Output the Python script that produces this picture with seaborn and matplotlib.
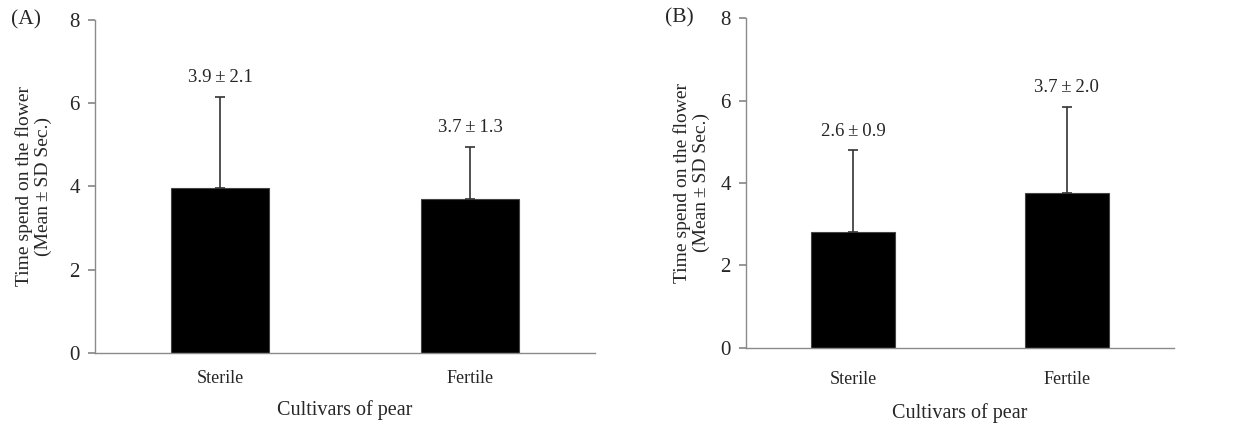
import matplotlib
matplotlib.use("Agg")
import matplotlib.pyplot as plt
import seaborn as sns
import pandas as pd
import numpy as np

# data
cultivars = ["Sterile", "Fertile"]
means_a = [3.95, 3.70]
sd_a = [2.20, 1.25]
labels_a = ["3.9\u2009\u00b1\u20092.1", "3.7\u2009\u00b1\u20091.3"]
means_b = [2.82, 3.76]
sd_b = [1.97, 2.09]
labels_b = ["2.6\u2009\u00b1\u20090.9", "3.7\u2009\u00b1\u20092.0"]
y_ticks = [0, 2, 4, 6, 8]

sns.set_theme(style="white")
plt.rcParams["font.family"] = ["Liberation Serif", "DejaVu Serif"]

fig = plt.figure(figsize=(12.5, 4.24), dpi=100)
ax_a = fig.add_axes([0.076, 0.1675, 0.400, 0.786])
ax_b = fig.add_axes([0.597, 0.180, 0.342, 0.777])

axis_grey = "#8a8a8a"


def draw_panel(ax, means, sds, labels, tag, ylab_x, xlab_y, tag_x, xpad):
    df = pd.DataFrame({"cultivar": cultivars, "time": means})
    sns.barplot(data=df, x="cultivar", y="time", color="black",
                width=0.39, errorbar=None, ax=ax, saturation=1,
                edgecolor="#444444", linewidth=0.8)
    x = np.arange(len(means))
    ax.errorbar(x, means, yerr=[np.zeros(len(sds)), sds], fmt="none",
                ecolor="#333333", elinewidth=1.2, capsize=3.5, capthick=1.2)
    for xi, m, s, lab in zip(x, means, sds, labels):
        ax.text(xi, m + s + 0.25, lab, ha="center", va="bottom", fontsize=13.5)

    ax.set_xlim(-0.5, 1.5)
    ax.set_ylim(0, 8)
    ax.set_yticks(y_ticks)
    ax.set_xticks([-0.5, 0.5, 1.5], minor=True)
    ax.tick_params(axis="x", which="major", length=0, pad=xpad, labelsize=13)
    ax.tick_params(axis="x", which="minor", length=5, color=axis_grey,
                   direction="out")
    ax.tick_params(axis="y", length=5, color=axis_grey, direction="out",
                   labelsize=15, pad=6, left=True)
    for side in ["top", "right"]:
        ax.spines[side].set_visible(False)
    for side in ["left", "bottom"]:
        ax.spines[side].set_color(axis_grey)
        ax.spines[side].set_linewidth(1.0)

    ax.set_xlabel("Cultivars of pear", fontsize=14.5, va="center")
    ax.xaxis.set_label_coords(0.5, xlab_y)
    ax.set_ylabel("Time spend on the flower\n(Mean\u2009\u00b1\u2009SD Sec.)",
                  fontsize=14, linespacing=1.15)
    ax.yaxis.set_label_coords(ylab_x, 0.5)
    ax.text(tag_x, 1.0, tag, transform=ax.transAxes, fontsize=15.5,
            ha="left", va="center")


draw_panel(ax_a, means_a, sd_a, labels_a, "(A)", -0.086, -0.171, -0.168, 12)
draw_panel(ax_b, means_b, sd_b, labels_b, "(B)", -0.084, -0.197, -0.19, 17)

fig.savefig("out.png", dpi=100)
